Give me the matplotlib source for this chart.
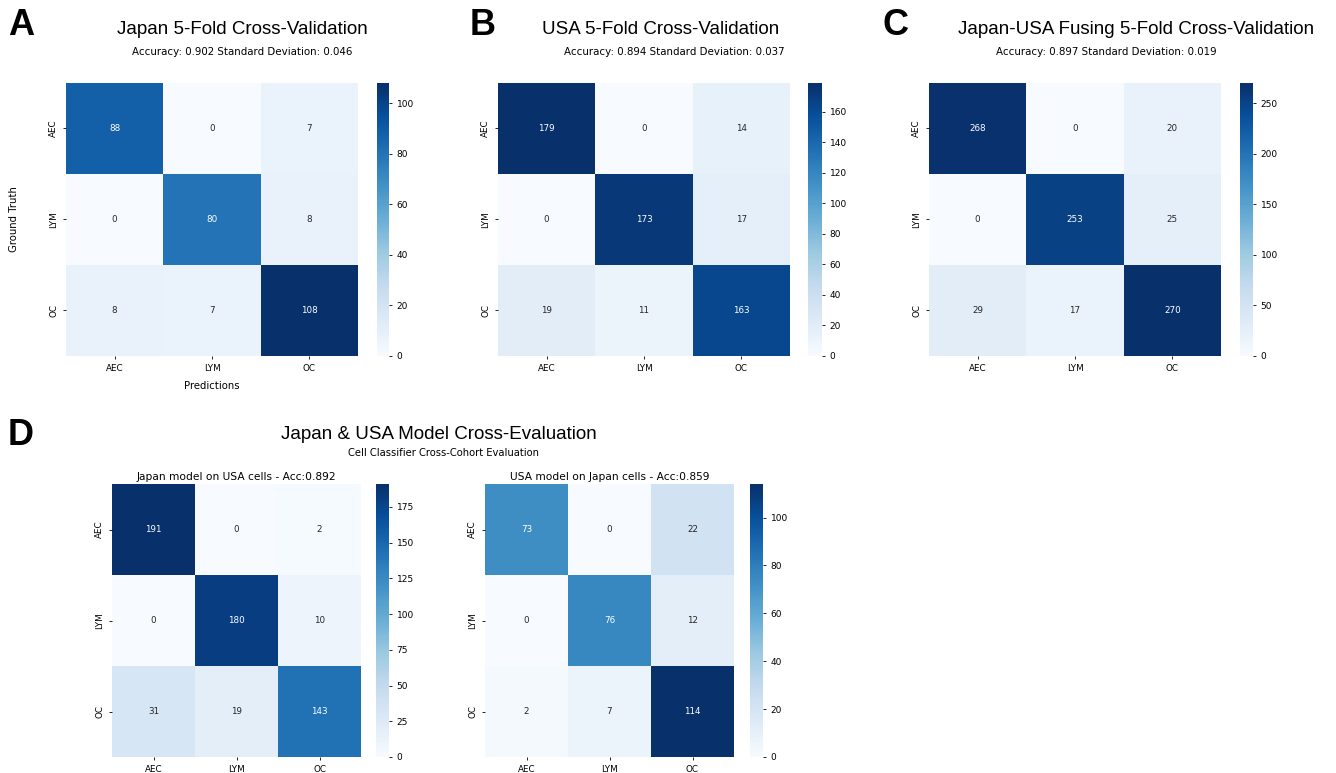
import numpy as np
import matplotlib
matplotlib.use("Agg")
import matplotlib.pyplot as plt
import seaborn as sns

labels = ["AEC", "LYM", "OC"]

japan_cv = [[88, 0, 7], [0, 80, 8], [8, 7, 108]]
usa_cv = [[179, 0, 14], [0, 173, 17], [19, 11, 163]]
fused_cv = [[268, 0, 20], [0, 253, 25], [29, 17, 270]]
japan_on_usa = [[191, 0, 2], [0, 180, 10], [31, 19, 143]]
usa_on_japan = [[73, 0, 22], [0, 76, 12], [2, 7, 114]]

cv_titles = ["Japan 5-Fold Cross-Validation",
             "USA 5-Fold Cross-Validation",
             "Japan-USA Fusing 5-Fold Cross-Validation"]
cv_subtitles = ["Accuracy: 0.902 Standard Deviation: 0.046",
                "Accuracy: 0.894 Standard Deviation: 0.037",
                "Accuracy: 0.897 Standard Deviation: 0.019"]
cross_titles = ["Japan model on USA cells - Acc:0.892",
                "USA model on Japan cells - Acc:0.859"]

W, H = 1336, 773
fig = plt.figure(figsize=(W / 100, H / 100), dpi=100)


def px_axes(x0, y0, x1, y1):
    # pixel box (top-left origin) -> figure axes
    return fig.add_axes([x0 / W, 1 - y1 / H, (x1 - x0) / W, (y1 - y0) / H])


def px_text(x, y, s, **kw):
    fig.text(x / W, 1 - y / H, s, **kw)


def draw(data, box, cbox):
    ax = px_axes(*box)
    cax = px_axes(*cbox)
    sns.heatmap(np.array(data), ax=ax, cbar_ax=cax, annot=True, fmt="d",
                cmap="Blues", xticklabels=labels, yticklabels=labels,
                annot_kws={"fontsize": 6.3})
    ax.tick_params(labelsize=6.3, length=2, width=0.6)
    cax.tick_params(labelsize=6.5, length=2, width=0.6)
    return ax


title_font = dict(family="Liberation Sans", fontsize=13.5, ha="center", va="center")
letter_font = dict(family="Liberation Sans", fontsize=26, fontweight="bold",
                   ha="left", va="top")

# top row
heat_boxes = [(66, 83, 358, 356), (498, 83, 790, 356), (929, 83, 1221, 356)]
cbar_boxes = [(377, 83, 389, 356), (808, 83, 822, 356), (1240, 83, 1253, 356)]
title_x = [242, 661, 1136]
sub_x = [242, 674, 1106]
letters = [("A", 8), ("B", 470), ("C", 882)]

for data, hb, cb, t, s, tx, sx, (lt, lx) in zip(
        [japan_cv, usa_cv, fused_cv], heat_boxes, cbar_boxes,
        cv_titles, cv_subtitles, title_x, sub_x, letters):
    ax = draw(data, hb, cb)
    px_text(tx, 30, t, **title_font)
    px_text(sx, 52, s, fontsize=7.4, ha="center", va="center")
    px_text(lx, 8, lt, **letter_font)
    if lt == "A":
        ax.set_ylabel("Ground Truth", fontsize=7.3)
        ax.set_xlabel("Predictions", fontsize=7.3)
        ax.yaxis.set_label_coords(-0.16, 0.5)
        ax.xaxis.set_label_coords(0.5, -0.09)

# bottom row
px_text(8, 418, "D", **letter_font)
px_text(439, 435, "Japan & USA Model Cross-Evaluation", **title_font)
px_text(443, 453, "Cell Classifier Cross-Cohort Evaluation", fontsize=7.2,
        ha="center", va="center")

for data, hb, cb, t in zip(
        [japan_on_usa, usa_on_japan],
        [(112, 484, 361, 757), (485, 484, 734, 757)],
        [(376, 484, 389, 757), (750, 484, 763, 757)],
        cross_titles):
    ax = draw(data, hb, cb)
    ax.set_title(t, fontsize=7.7, pad=3)

fig.savefig("out.png", dpi=100)
